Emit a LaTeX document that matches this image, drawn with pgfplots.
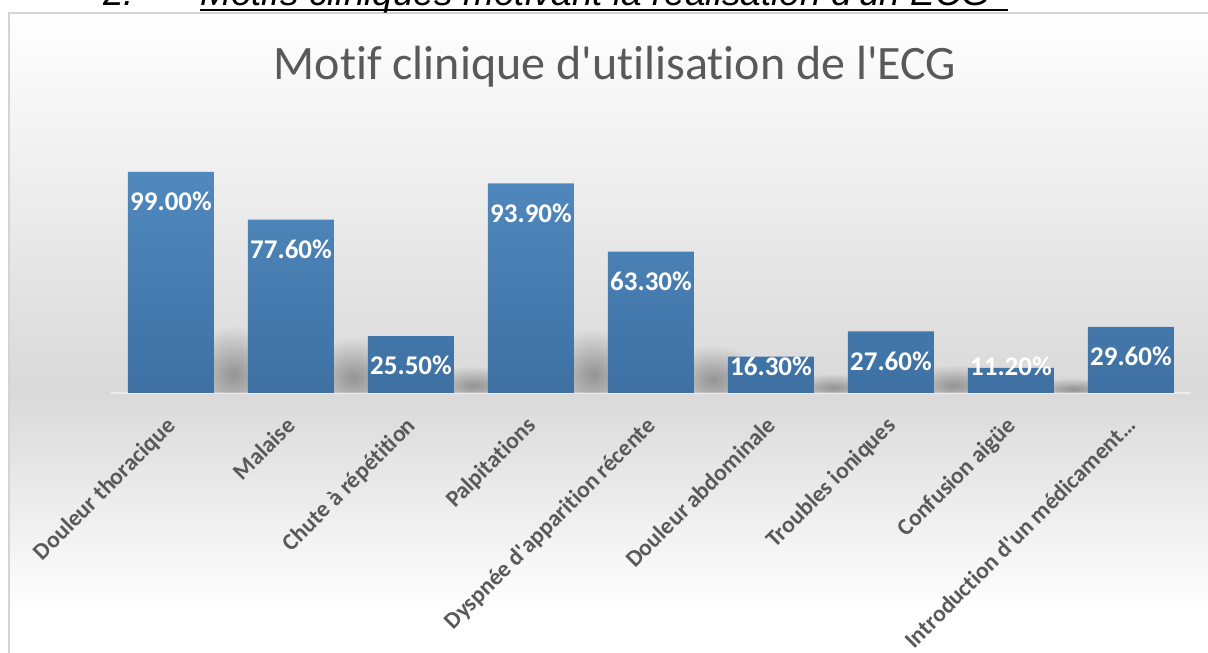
\documentclass[border=0pt]{standalone}
\usepackage{pgfplots}
\pgfplotsset{compat=1.18}
\usepackage{pgfplotstable}
\usepackage{fontspec}
\setmainfont{Carlito}[Ligatures={TeXOff,NoCommon}]
\newfontfamily\arialfont{Liberation Sans}
\usetikzlibrary{fadings}
\definecolor{bartop}{HTML}{5089BE}
\definecolor{barbot}{HTML}{3E70A2}
\definecolor{txtgray}{HTML}{595959}
\definecolor{bggray}{HTML}{D9D9D9}
\definecolor{framegray}{HTML}{D4D4D4}
\tikzfading[name=blobfade, inner color=transparent!0, outer color=transparent!100]
\pgfdeclareplotmark{shblob}{\fill[black, fill opacity=0.32, path fading=blobfade] (0pt,0pt) ellipse [x radius=46pt, y radius=\shh pt];}

% x = category index, y = value (%), ylab = position of the value label
\pgfplotstableread{
x y ylab
0 99.0 90.04
1 77.6 68.64
2 25.5 16.55
3 93.9 84.94
4 63.3 54.34
5 16.3 16.12
6 27.6 18.64
7 11.2 16.12
8 29.6 20.64
}\data
% soft shadows to the right of the bars: centre (xs, yc), vertical radius sh (pt)
\pgfplotstableread{
xs yc sh
0.52 8.5 48
1.52 7.0 40
2.52 3.4 19
3.52 8.2 46
4.52 6.0 34
5.52 2.4 14
6.52 3.5 20
7.52 1.8 11
8.52 3.6 21
}\shadows

\begin{document}
\begin{tikzpicture}
\useasboundingbox (0pt,0pt) rectangle (1208pt,653pt);
\clip (0pt,0pt) rectangle (1208pt,653pt);
\fill[white] (0pt,0pt) rectangle (1208pt,653pt);
% chart area background
\shade[top color=white, bottom color=bggray] (9pt,263pt) rectangle (1215pt,640pt);
\shade[top color=bggray, bottom color=white] (9pt,40pt) rectangle (1215pt,263.5pt);
\fill[white] (9pt,-5pt) rectangle (1215pt,40.5pt);
\draw[framegray, line width=1.5pt] (9pt,-5pt) -- (9pt,640pt) -- (1215pt,640pt);
% document heading (cut off at the top)
\node[anchor=base west, inner sep=0pt, font=\arialfont\itshape\fontsize{37}{37}\selectfont] at (103pt,647pt) {2.};
\node[anchor=base west, inner sep=0pt, font=\arialfont\itshape\fontsize{37}{37}\selectfont] at (200pt,647pt) {Motifs cliniques motivant la réalisation d'un ECG};
\draw[line width=1.8pt] (200pt,643pt) -- (1008pt,643pt);
% chart title
\node[anchor=base, inner sep=0pt, text=txtgray, font=\fontsize{48}{48}\selectfont] at (615pt,573pt) {Motif clinique d'utilisation de l'ECG};
\begin{axis}[
  at={(111pt,260pt)}, anchor=south west,
  scale only axis, width=1080pt, height=268pt,
  xmin=-0.5, xmax=8.5, ymin=0, ymax=120,
  clip=true, clip marker paths=true,
  axis y line=none,
  axis x line*=bottom,
  x axis line style={draw=bggray!50, line width=1.2pt, -},
  major tick length=0pt,
  ytick=\empty,
  xtick={0,1,2,3,4,5,6,7,8},
  xticklabels={Douleur thoracique, Malaise, Chute à répétition, Palpitations, Dyspnée d'apparition récente, Douleur abdominale, Troubles ioniques, Confusion aigüe, Introduction d'un médicament…},
  xticklabel style={xshift=6pt, yshift=-34pt, anchor=base east, rotate=45, inner sep=0pt, text=txtgray, font=\bfseries\fontsize{23.5}{23.5}\selectfont},
  /pgf/number format/assume math mode=true,
]
% soft shadows
\addplot[only marks, mark=shblob, visualization depends on={\thisrow{sh} \as \shh}] table[x=xs, y=yc] {\shadows};
% bars
\addplot[ybar, bar width=86pt, bar shift=0pt, draw=none, top color=bartop, bottom color=barbot] table[x=x, y=y] {\data};
% value labels
\addplot[draw=none, mark=none,
  nodes near coords={\pgfmathprintnumber[fixed, fixed zerofill, precision=2]{\pgfplotspointmeta}\%},
  nodes near coords style={anchor=north, inner sep=0pt, text=white, font=\bfseries\fontsize{27}{27}\selectfont},
  point meta=explicit] table[x=x, y=ylab, meta=y] {\data};
\end{axis}
\end{tikzpicture}
\end{document}
